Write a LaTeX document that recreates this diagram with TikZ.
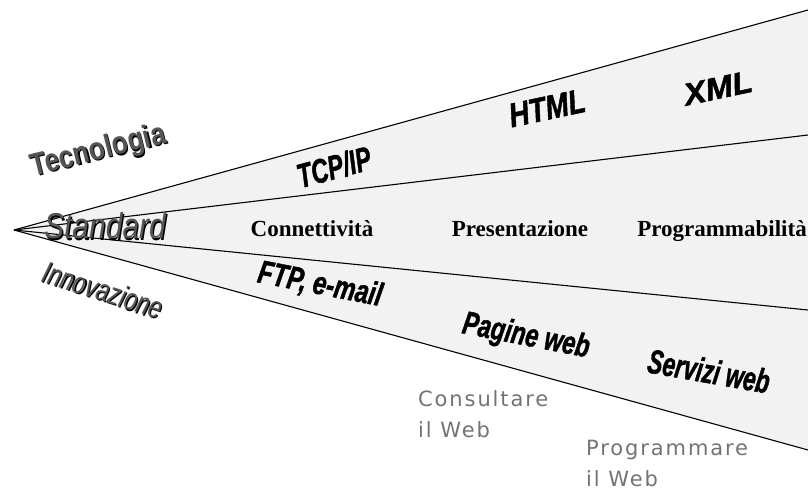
\documentclass[tikz,border=0pt]{standalone}
\usepackage{fontspec}
\setmainfont{Liberation Serif}
\newfontfamily\arialf{Liberation Sans}
\newfontfamily\heavyf{Liberation Sans}[FakeBold=1.5]
\newfontfamily\notef{DejaVu Sans}[LetterSpace=9]
\definecolor{fanfill}{HTML}{F2F2F2}
\definecolor{outlinegray}{HTML}{555555}
\definecolor{softgray}{HTML}{737373}
\begin{document}
\begin{tikzpicture}[x=1pt,y=-1pt,
  fanline/.style={draw=black,line width=1.1pt},
  blacklabel/.style={inner sep=0pt,font=\heavyf\bfseries\itshape\fontsize{26}{26}\selectfont,text=black},
  greylabel/.style={inner sep=0pt,font=\arialf\fontsize{24}{24}\selectfont,text=outlinegray},
  serifbold/.style={inner sep=0pt,anchor=base,font=\bfseries\fontsize{23}{23}\selectfont},
  webnote/.style={inner sep=0pt,anchor=base west,font=\notef\fontsize{21}{21}\selectfont,text=softgray}]
\useasboundingbox (0,0) rectangle (808,490);
\coordinate (apex) at (14,230);
\coordinate (e1) at (808,10);
\coordinate (e2) at (808,135);
\coordinate (e3) at (808,310);
\coordinate (e4) at (808,450);
\fill[fanfill] (apex) -- (e1) -- (e4) -- cycle;
\draw[fanline] (apex) -- (e1);
\draw[fanline] (apex) -- (e2);
\draw[fanline] (apex) -- (e3);
\draw[fanline] (apex) -- (e4);
% outlined left labels
\node[greylabel,text=black,rotate=14,yscale=1.2,font=\arialf\bfseries\fontsize{26.5}{26.5}\selectfont] (tecS) at (99.8,152.8) {Tecnologia};
\node[greylabel,rotate=14,yscale=1.2,font=\arialf\bfseries\fontsize{26.5}{26.5}\selectfont] (tec) at (98.5,151.5) {Tecnologia};
\node[greylabel,text=black,yscale=1.2,font=\arialf\itshape\fontsize{30}{30}\selectfont] (stdS) at (106.2,227.2) {Standard};
\node[greylabel,yscale=1.2,font=\arialf\itshape\fontsize{30}{30}\selectfont] (std) at (105,226) {Standard};
\node[greylabel,text=black,rotate=-18,yscale=1.35,font=\arialf\itshape\fontsize{23}{23}\selectfont] (innS) at (104.2,291.2) {Innovazione};
\node[greylabel,rotate=-18,yscale=1.35,font=\arialf\itshape\fontsize{23}{23}\selectfont] (inn) at (103,290) {Innovazione};
% technology labels
\node[blacklabel,rotate=15,xscale=0.9,yscale=1.3] (tcp) at (334,167) {TCP/IP};
\node[blacklabel,rotate=12,xscale=1.07,yscale=1.3] (html) at (547,108) {HTML};
\node[blacklabel,rotate=12,xscale=1.26,yscale=1.2] (xml) at (718,88) {XML};
% standard labels
\node[serifbold] (con) at (312,236) {Connettività};
\node[serifbold] (pres) at (520,236) {Presentazione};
\node[serifbold] (prog) at (722,236) {Programmabilità};
% innovation labels
\node[blacklabel,rotate=-11,xscale=0.93,yscale=1.25] (ftp) at (320,285) {FTP, e-mail};
\node[blacklabel,rotate=-11,xscale=0.9,yscale=1.25] (pag) at (526,337) {Pagine web};
\node[blacklabel,rotate=-10,xscale=0.87,yscale=1.3] (serv) at (709,371) {Servizi web};
% notes
\node[webnote] (cons1) at (418,406) {Consultare};
\node[webnote] (cons2) at (418,437) {il Web};
\node[webnote] (progw1) at (586,455) {Programmare};
\node[webnote] (progw2) at (586,486) {il Web};
\end{tikzpicture}
\end{document}
